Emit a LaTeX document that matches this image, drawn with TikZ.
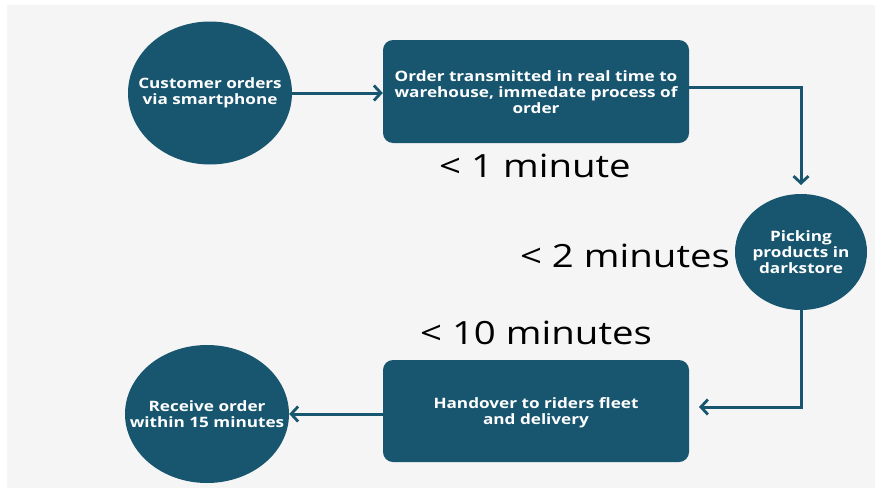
\documentclass[tikz,border=0pt]{standalone}
\usepackage{fontspec}
\setmainfont{Open Sans}[FakeStretch=1.2]
\usetikzlibrary{arrows.meta,shapes.geometric}
\definecolor{teal}{RGB}{24,86,112}
\definecolor{bg}{RGB}{245,245,245}
\begin{document}
\begin{tikzpicture}[x=1pt,y=-1pt,
  oval/.style={ellipse,fill=teal,inner sep=0pt},
  box/.style={rectangle,rounded corners=10pt,fill=teal,inner sep=0pt},
  txt/.style={inner sep=0pt,text=white,font=\bfseries\fontsize{14.3}{15.7}\selectfont,align=center},
  conn/.style={draw=teal,line width=3pt,-{Straight Barb[length=7pt,width=15pt,line width=2.8pt]}},
  tlabel/.style={font=\fontsize{32}{36}\selectfont,text=black,inner sep=0pt}]
\useasboundingbox (0,0) rectangle (875,490);
\fill[white] (0,0) rectangle (875,490);
\fill[bg] (7,5) rectangle (875,488);
\node[oval,minimum width=164pt,minimum height=143pt] (c1) at (210,93) {};
\node[txt] (c1t) at (c1) {Customer orders\\via smartphone};
\node[box,minimum width=306pt,minimum height=103pt] (r1) at (536,91.5) {};
\node[txt] (r1t) at (536,92) {Order transmitted in real time to\\warehouse, immedate process of\\order};
\node[oval,minimum width=132pt,minimum height=116pt] (c3) at (801,252) {};
\node[txt] (c3t) at (c3) {Picking\\products in\\darkstore};
\node[box,minimum width=306pt,minimum height=102pt] (r2) at (536,411) {};
\node[txt] (r2t) at (536,413) {Handover to riders fleet\\and delivery};
\node[oval,minimum width=164pt,minimum height=138pt] (c4) at (207,414) {};
\node[txt] (c4t) at (c4) {Receive order\\within 15 minutes};
\node[tlabel] (l1) at (535,166) {< 1 minute};
\node[tlabel] (l2) at (625,256) {< 2 minutes};
\node[tlabel] (l3) at (536,333) {< 10 minutes};
\coordinate (k1) at (801,87);
\coordinate (k1e) at (801,185);
\coordinate (k2) at (801,407);
\coordinate (k2e) at (699,407);
\draw[conn] (c1.east) -- (c1.east -| r1.west);
\draw[conn] (r1.east |- k1) -- (k1) -- (k1e);
\draw[conn] (c3.south) -- (k2) -- (k2e);
\draw[conn] (r2.west |- c4.east) -- (c4.east);
\end{tikzpicture}
\end{document}
